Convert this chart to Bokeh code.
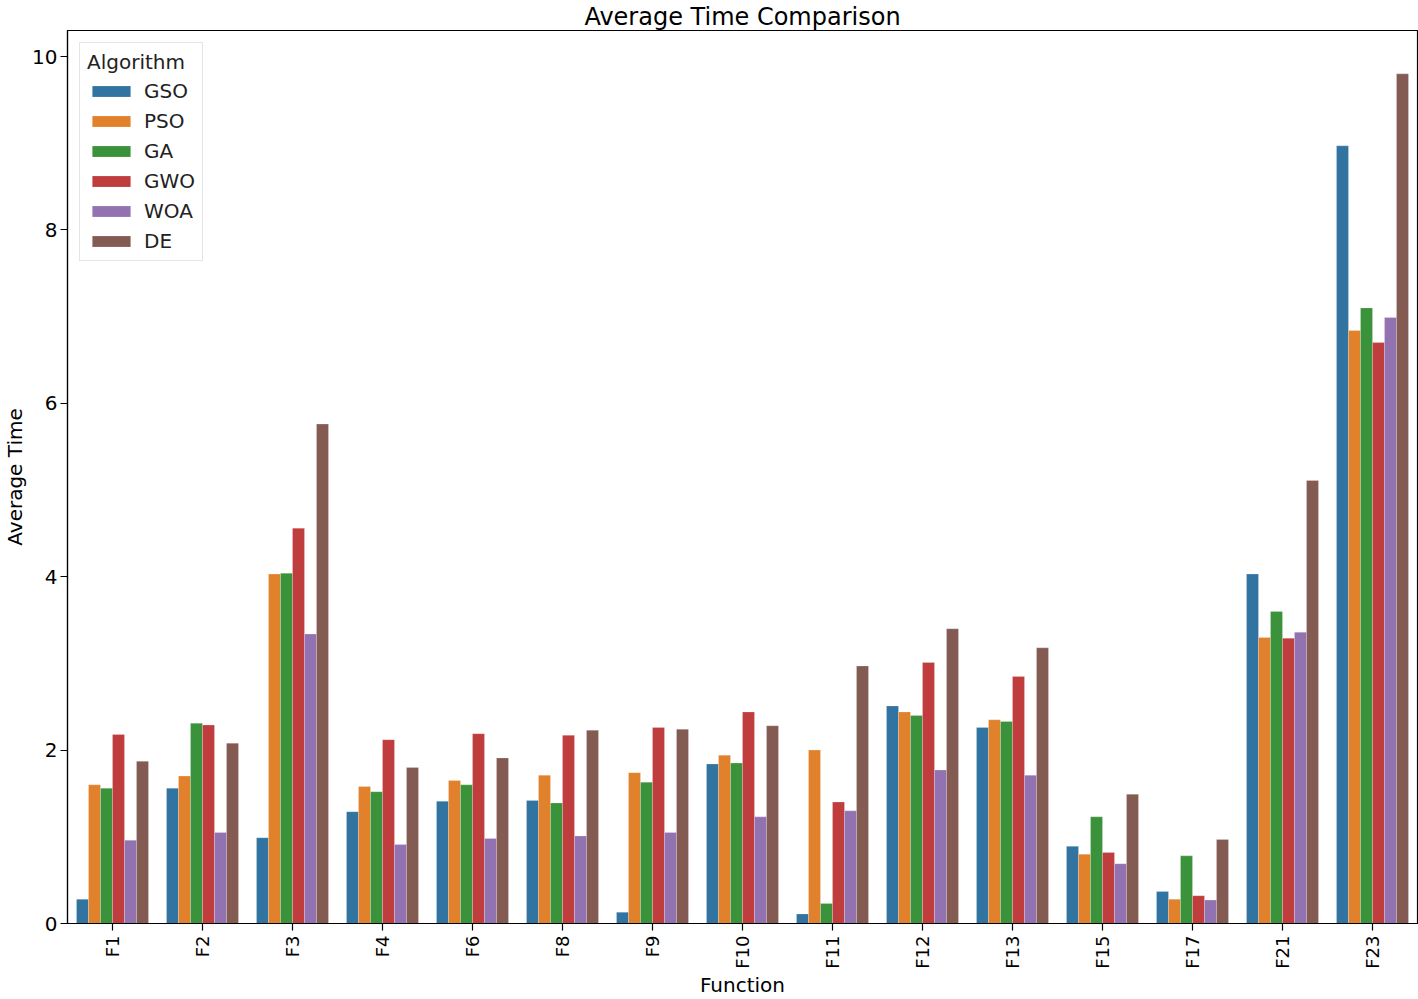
import math
from bokeh.plotting import figure
from bokeh.models import ColumnDataSource, FactorRange, Range1d, FixedTicker, Legend
from bokeh.transform import dodge
from bokeh.embed import file_html
from bokeh.resources import INLINE

functions = ["F1", "F2", "F3", "F4", "F6", "F8", "F9", "F10", "F11", "F12", "F13", "F15", "F17", "F21", "F23"]
algorithms = ["GSO", "PSO", "GA", "GWO", "WOA", "DE"]

gso = [0.28, 1.56, 0.99, 1.29, 1.41, 1.42, 0.13, 1.84, 0.11, 2.51, 2.26, 0.89, 0.37, 4.03, 8.97]
pso = [1.60, 1.70, 4.03, 1.58, 1.65, 1.71, 1.74, 1.94, 2.00, 2.44, 2.35, 0.80, 0.28, 3.30, 6.84]
ga = [1.56, 2.31, 4.04, 1.52, 1.60, 1.39, 1.63, 1.85, 0.23, 2.40, 2.33, 1.23, 0.78, 3.60, 7.10]
gwo = [2.18, 2.29, 4.56, 2.12, 2.19, 2.17, 2.26, 2.44, 1.40, 3.01, 2.85, 0.82, 0.32, 3.29, 6.70]
woa = [0.96, 1.05, 3.34, 0.91, 0.98, 1.01, 1.05, 1.23, 1.30, 1.77, 1.71, 0.69, 0.27, 3.36, 6.99]
de = [1.87, 2.08, 5.76, 1.80, 1.91, 2.23, 2.24, 2.28, 2.97, 3.40, 3.18, 1.49, 0.97, 5.11, 9.80]

colors = ["#3274a1", "#e1812c", "#3a923a", "#c03d3e", "#9372b2", "#845b53"]
y_ticks = [0, 2, 4, 6, 8, 10]

source = ColumnDataSource(data=dict(func=functions, GSO=gso, PSO=pso, GA=ga, GWO=gwo, WOA=woa, DE=de))

FONT = "DejaVu Sans"

p = figure(
    frame_width=1350, frame_height=893,
    x_range=FactorRange(factors=functions, range_padding=0),
    y_range=Range1d(0, 10.3),
    output_backend="svg", toolbar_location=None,
    min_border_left=58, min_border_right=2, min_border_top=23, min_border_bottom=60,
    title="Average Time Comparison",
)

p.title.text_font = FONT
p.title.text_font_size = "24px"
p.title.text_font_style = "normal"
p.title.align = "center"
p.title.standoff = 0
p.title.text_color = "black"

n = len(algorithms)
w = 0.8 / n
items = []
for i, alg in enumerate(algorithms):
    off = -0.4 + w * (i + 0.5)
    r = p.vbar(x=dodge("func", off, range=p.x_range), top=alg, width=w, source=source,
               fill_color=colors[i], line_color="white", line_alpha=0.35, line_width=0.6)
    items.append((alg, [r]))

legend = Legend(items=items, location="top_left", title="Algorithm")
legend.title_text_font = FONT
legend.title_text_font_size = "20px"
legend.title_text_font_style = "normal"
legend.title_text_color = "#222222"
legend.label_text_font = FONT
legend.label_text_font_size = "20px"
legend.label_text_color = "#222222"
legend.glyph_width = 48
legend.glyph_height = 14
legend.label_standoff = 9
legend.spacing = 6
legend.padding = 7
legend.margin = 12
legend.border_line_color = "#cccccc"
legend.border_line_width = 1
legend.background_fill_alpha = 0.8
p.add_layout(legend)

p.xgrid.grid_line_color = None
p.ygrid.grid_line_color = None
p.outline_line_color = "black"
p.outline_line_width = 1.2

for ax in (p.xaxis[0], p.yaxis[0]):
    ax.axis_line_color = "black"
    ax.axis_line_width = 1.2
    ax.major_tick_line_color = "black"
    ax.major_tick_line_width = 1.2
    ax.major_tick_out = 7
    ax.major_tick_in = 0
    ax.minor_tick_line_color = None
    ax.major_label_text_font = FONT
    ax.major_label_text_color = "black"
    ax.axis_label_text_font = FONT
    ax.axis_label_text_font_size = "20px"
    ax.axis_label_text_font_style = "normal"
    ax.axis_label_text_color = "black"

p.yaxis.ticker = FixedTicker(ticks=y_ticks)
p.yaxis.major_label_text_font_size = "20px"
p.yaxis.axis_label = "Average Time"
p.yaxis.major_label_standoff = 3
p.yaxis.axis_label_standoff = 2

p.xaxis.axis_label = "Function"
p.xaxis.major_label_text_font_size = "18px"
p.xaxis.major_label_orientation = math.pi / 2
p.xaxis.major_label_standoff = 5
p.xaxis.axis_label_standoff = 1

open("out.html", "w").write(file_html(p, INLINE))
